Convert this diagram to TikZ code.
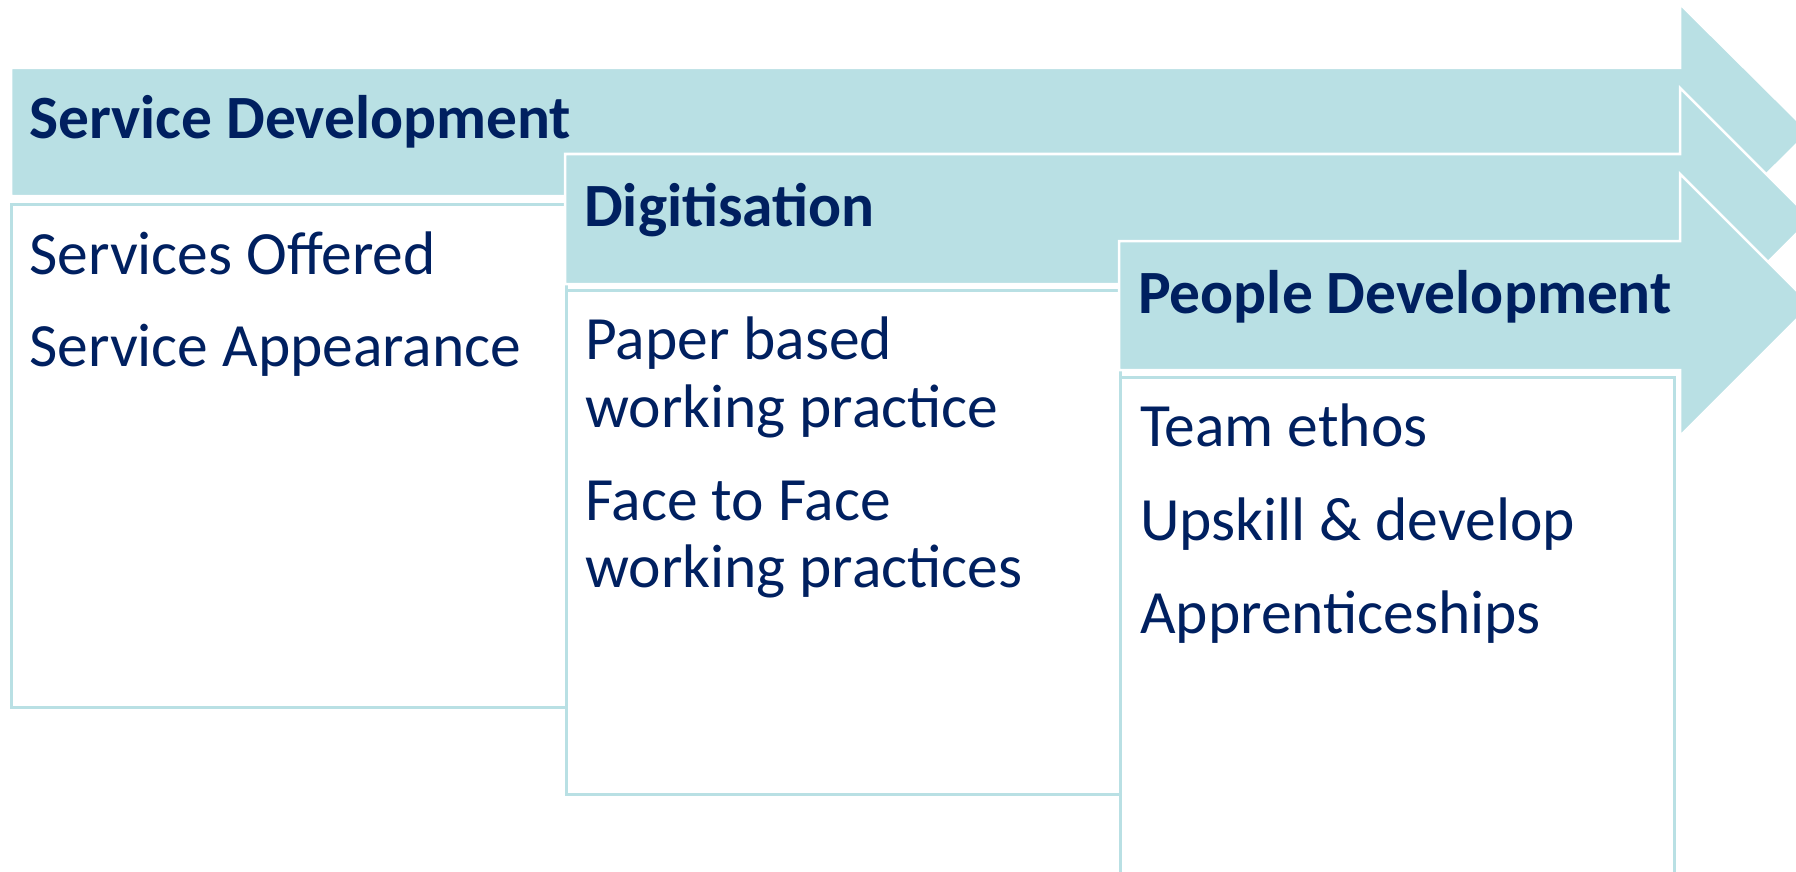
\documentclass[tikz,border=0pt]{standalone}
\usepackage{fontspec}
\setmainfont{Carlito}
\definecolor{arrowfill}{RGB}{185,224,228}
\definecolor{boxline}{RGB}{185,224,228}
\definecolor{navy}{RGB}{0,32,96}
\tikzset{
  arrowshape/.style={fill=arrowfill, draw=white, line width=2.5pt, line join=miter},
  contentbox/.style={fill=white, draw=boxline, line width=3pt},
  headtext/.style={anchor=base west, inner sep=0pt, text=navy, font=\fontsize{61.5}{68}\selectfont\bfseries},
  itemtext/.style={anchor=base west, inner sep=0pt, text=navy, font=\fontsize{61.5}{68}\selectfont},
}
\begin{document}
\begin{tikzpicture}[x=1pt,y=-1pt]
\useasboundingbox (0,0) rectangle (1796,872);
\clip (0,0) rectangle (1796,872);
% arrow 1
\draw[arrowshape] (11,68) -- (1680,68) -- (1680,4) -- (1809,132) -- (1680,260) -- (1680,196) -- (11,196) -- cycle;
\draw[contentbox] (11,204) rectangle (566,707);
\node[headtext] (h1) at (29,139) {Service Development};
\node[itemtext] (a1) at (29,274) {Services Offered};
\node[itemtext] (a2) at (29,366) {Service Appearance};
% arrow 2
\draw[arrowshape] (565,154) -- (1680,154) -- (1680,88) -- (1811,219) -- (1680,350) -- (1680,284) -- (565,284) -- cycle;
\draw[contentbox] (566,290) rectangle (1120,794);
\node[headtext] (h2) at (584,226) {Digitisation};
\node[itemtext] (b1) at (585,359) {Paper based};
\node[itemtext] (b2) at (585,427) {working practice};
\node[itemtext] (b3) at (585,520) {Face to Face};
\node[itemtext] (b4) at (585,587) {working practices};
% arrow 3
\draw[arrowshape] (1119,241) -- (1680,241) -- (1680,174) -- (1811,305) -- (1680,436) -- (1680,370) -- (1119,370) -- cycle;
\draw[contentbox] (1120,377) rectangle (1674,900);
\node[headtext] (h3) at (1138,313) {People Development};
\node[itemtext] (c1) at (1140,446) {Team ethos};
\node[itemtext] (c2) at (1140,540) {Upskill \& develop};
\node[itemtext] (c3) at (1140,633) {Apprenticeships};
\end{tikzpicture}
\end{document}
